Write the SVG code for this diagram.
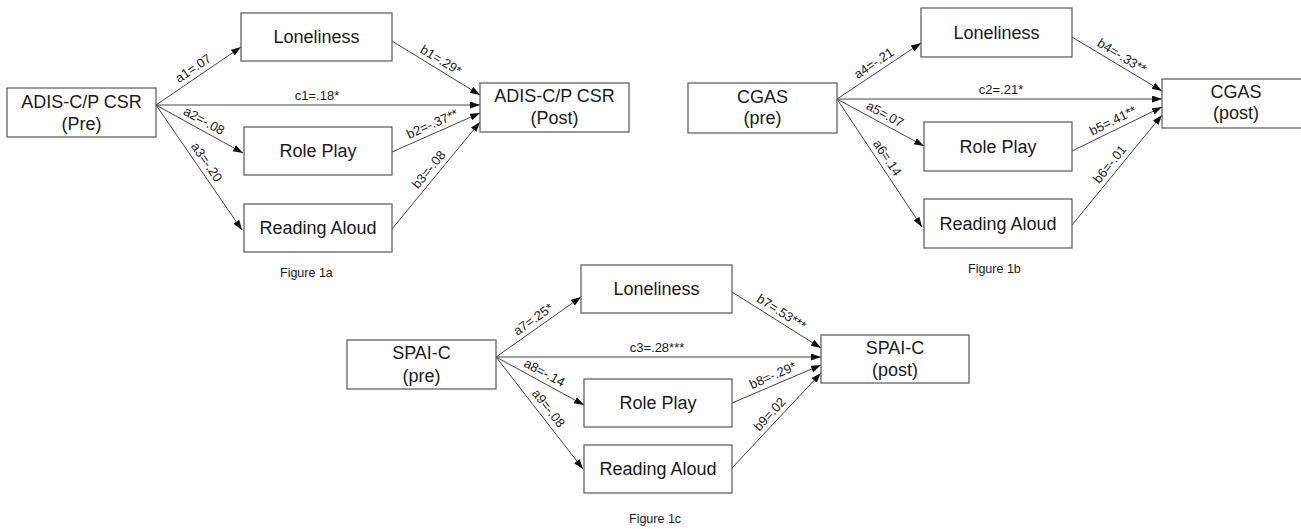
<svg xmlns="http://www.w3.org/2000/svg" width="1301" height="529" viewBox="0 0 1301 529">
<style>
.box{fill:#fff;stroke:#555;stroke-width:1.2}
.nt{font-family:"Liberation Sans",Arial,sans-serif;font-size:18px;fill:#1a1a1a;text-anchor:middle}
.edge{stroke:#444;stroke-width:1;fill:none;marker-end:url(#ah)}
.lb{font-family:"Liberation Sans",Arial,sans-serif;font-size:13px;fill:#1a1a1a;text-anchor:middle}
.cap{font-family:"Liberation Sans",Arial,sans-serif;font-size:12.5px;fill:#1a1a1a}
</style>
<defs>
<marker id="ah" markerUnits="userSpaceOnUse" markerWidth="11" markerHeight="8" refX="10" refY="3.5" orient="auto">
<path d="M0,0 L10,3.5 L0,7 z" fill="#111"/>
</marker>
</defs>
<rect width="1301" height="529" fill="#fff"/>

<g id="connectors">
<!-- Figure 1a -->
<line class="edge" x1="156" y1="105" x2="241" y2="47"/>
<line class="edge" x1="156" y1="105" x2="243" y2="153"/>
<line class="edge" x1="156" y1="105" x2="242" y2="230"/>
<line class="edge" x1="156" y1="105" x2="480" y2="105"/>
<line class="edge" x1="392" y1="41" x2="480" y2="95"/>
<line class="edge" x1="392" y1="152" x2="480" y2="113"/>
<line class="edge" x1="392" y1="229" x2="480" y2="122"/>
<text class="lb" transform="translate(198.5,76) rotate(-34.31)" y="-5">a1=.07</text>
<text class="lb" transform="translate(199.5,129) rotate(28.89)" y="-5">a2=-.08</text>
<text class="lb" transform="translate(199,167.5) rotate(55.47)" y="-5">a3=-.20</text>
<text class="lb" x="317" y="100">c1=.18*</text>
<text class="lb" transform="translate(436,68) rotate(31.53)" y="-5">b1=.29*</text>
<text class="lb" transform="translate(436,132.5) rotate(-23.9)" y="-5">b2=-.37**</text>
<text class="lb" transform="translate(436,175.5) rotate(-50.56)" y="-5">b3=-.08</text>
<!-- Figure 1b -->
<line class="edge" x1="837" y1="99" x2="921" y2="43"/>
<line class="edge" x1="837" y1="99" x2="924" y2="146"/>
<line class="edge" x1="837" y1="99" x2="922" y2="227"/>
<line class="edge" x1="837" y1="99" x2="1162" y2="99"/>
<line class="edge" x1="1072" y1="37" x2="1162" y2="91"/>
<line class="edge" x1="1072" y1="151" x2="1162" y2="107"/>
<line class="edge" x1="1072" y1="225" x2="1162" y2="115"/>
<text class="lb" transform="translate(879,71) rotate(-33.69)" y="-5">a4=-.21</text>
<text class="lb" transform="translate(880.5,122.5) rotate(28.38)" y="-5">a5=.07</text>
<text class="lb" transform="translate(879.5,163) rotate(56.41)" y="-5">a6=.14</text>
<text class="lb" x="1001" y="94">c2=.21*</text>
<text class="lb" transform="translate(1117,64) rotate(31.25)" y="-5">b4=-.33**</text>
<text class="lb" transform="translate(1117,129) rotate(-26.3)" y="-5">b5=.41**</text>
<text class="lb" transform="translate(1117,170) rotate(-51.03)" y="-5">b6=-.01</text>
<!-- Figure 1c -->
<line class="edge" x1="496" y1="357" x2="581" y2="297"/>
<line class="edge" x1="496" y1="357" x2="584" y2="405"/>
<line class="edge" x1="496" y1="357" x2="583" y2="469"/>
<line class="edge" x1="496" y1="357" x2="821" y2="357"/>
<line class="edge" x1="732" y1="292" x2="821" y2="348"/>
<line class="edge" x1="732" y1="403" x2="821" y2="365"/>
<line class="edge" x1="732" y1="468" x2="821" y2="373"/>
<text class="lb" transform="translate(538.5,327) rotate(-35.22)" y="-5">a7=.25*</text>
<text class="lb" transform="translate(540,381) rotate(28.61)" y="-5">a8=-.14</text>
<text class="lb" transform="translate(541,414) rotate(52.16)" y="-5">a9=-.08</text>
<text class="lb" x="657" y="352">c3=.28***</text>
<text class="lb" transform="translate(776.5,320) rotate(32.47)" y="-5">b7=.53***</text>
<text class="lb" transform="translate(776.5,384) rotate(-23.36)" y="-5">b8=-.29*</text>
<text class="lb" transform="translate(776.5,420.5) rotate(-47.19)" y="-5">b9=.02</text>
</g>

<!-- Figure 1a nodes -->
<g id="adis-pre"><rect class="box" x="7" y="88" width="149" height="49"/><text class="nt" x="81.5" y="108">ADIS-C/P CSR</text><text class="nt" x="81.5" y="130">(Pre)</text></g>
<g id="lone-a"><rect class="box" x="241" y="13" width="151" height="48"/><text class="nt" x="316.5" y="43">Loneliness</text></g>
<g id="role-a"><rect class="box" x="244" y="127" width="148" height="48"/><text class="nt" x="318" y="157">Role Play</text></g>
<g id="read-a"><rect class="box" x="244" y="204" width="148" height="48"/><text class="nt" x="318" y="234">Reading Aloud</text></g>
<g id="adis-post"><rect class="box" x="480" y="83" width="149" height="49"/><text class="nt" x="554.5" y="102">ADIS-C/P CSR</text><text class="nt" x="554.5" y="124">(Post)</text></g>
<text class="cap" x="280" y="277">Figure 1a</text>

<!-- Figure 1b nodes -->
<g id="cgas-pre"><rect class="box" x="688" y="83" width="149" height="50"/><text class="nt" x="762.5" y="103">CGAS</text><text class="nt" x="762.5" y="124">(pre)</text></g>
<g id="lone-b"><rect class="box" x="921" y="8" width="151" height="49"/><text class="nt" x="996.5" y="38.5">Loneliness</text></g>
<g id="role-b"><rect class="box" x="924" y="122" width="148" height="49"/><text class="nt" x="998" y="152.5">Role Play</text></g>
<g id="read-b"><rect class="box" x="924" y="199" width="148" height="49"/><text class="nt" x="998" y="229.5">Reading Aloud</text></g>
<g id="cgas-post"><rect class="box" x="1162" y="79" width="149" height="49"/><text class="nt" x="1236" y="97.5">CGAS</text><text class="nt" x="1236" y="119">(post)</text></g>
<text class="cap" x="968" y="273">Figure 1b</text>

<!-- Figure 1c nodes -->
<g id="spai-pre"><rect class="box" x="347" y="340" width="149" height="49"/><text class="nt" x="421.5" y="359">SPAI-C</text><text class="nt" x="421.5" y="382">(pre)</text></g>
<g id="lone-c"><rect class="box" x="581" y="265" width="151" height="48"/><text class="nt" x="656.5" y="295">Loneliness</text></g>
<g id="role-c"><rect class="box" x="584" y="379" width="148" height="48"/><text class="nt" x="658" y="409">Role Play</text></g>
<g id="read-c"><rect class="box" x="584" y="445" width="148" height="48"/><text class="nt" x="658" y="475">Reading Aloud</text></g>
<g id="spai-post"><rect class="box" x="821" y="335" width="148" height="48"/><text class="nt" x="895" y="354">SPAI-C</text><text class="nt" x="895" y="376">(post)</text></g>
<text class="cap" x="629" y="523">Figure 1c</text>
</svg>
